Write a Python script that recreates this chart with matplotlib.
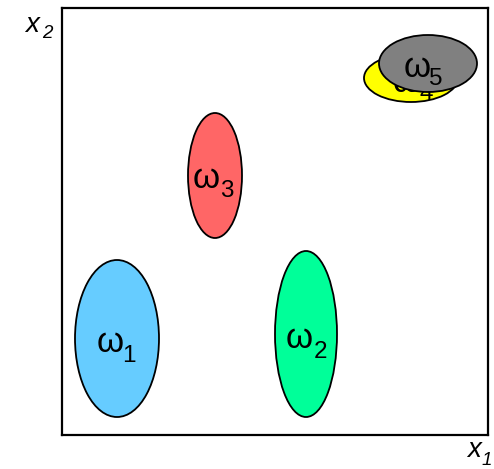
import matplotlib
matplotlib.use("Agg")
import matplotlib.pyplot as plt
from matplotlib.patches import Ellipse

plt.rcParams['font.family'] = ['Liberation Sans', 'DejaVu Sans']

# class data
symbols = ['ω', 'ω', 'ω', 'ω', 'ω']
subscripts = ['1', '2', '3', '4', '5']
centers_x = [55, 244, 153, 349, 366]
centers_y = [96.5, 101, 259.5, 357, 371.5]
widths = [84, 62, 54, 94, 98]
heights = [157, 166, 125, 48, 57]
colors = ['#66CCFF', '#00FF99', '#FF6666', '#FFFF00', '#808080']

# label placement (pixel coordinates of reference)
sym_px = [110, 299, 206, 406, 417]
sym_py = [352, 348, 188, 92, 77]
sub_px = [129, 320, 227, 426, 436]
sub_py = [362, 358, 197, 100, 85]

W, H = 494, 469
fig = plt.figure(figsize=(W / 100, H / 100), dpi=100)
ax = fig.add_axes([62 / W, 34 / H, 426 / W, 427 / H])
ax.set_xlim(0, 426)
ax.set_ylim(0, 427)
ax.set_xticks([])
ax.set_yticks([])
for s in ax.spines.values():
    s.set_linewidth(1.6)

z = 1
for i in range(len(symbols)):
    e = Ellipse((centers_x[i], centers_y[i]), widths[i], heights[i],
                facecolor=colors[i], edgecolor='black', linewidth=1.3, zorder=z)
    ax.add_patch(e)
    ax.text(sym_px[i] - 62, 435 - sym_py[i], symbols[i], fontsize=25,
            ha='center', va='baseline', zorder=z + 1)
    ax.text(sub_px[i] - 62, 435 - sub_py[i], subscripts[i], fontsize=17.5,
            ha='center', va='baseline', zorder=z + 1)
    z += 2

# axis labels
fig.text(32.5 / W, 1 - 32 / H, 'x', fontsize=20, style='italic', ha='center', va='baseline')
fig.text(47.5 / W, 1 - 38 / H, '2', fontsize=13.5, style='italic', ha='center', va='baseline')
fig.text(474 / W, 1 - 457 / H, 'x', fontsize=20, style='italic', ha='center', va='baseline')
fig.text(487 / W, 1 - 465 / H, '1', fontsize=13.5, style='italic', ha='center', va='baseline')

fig.savefig('out.png', dpi=100)
